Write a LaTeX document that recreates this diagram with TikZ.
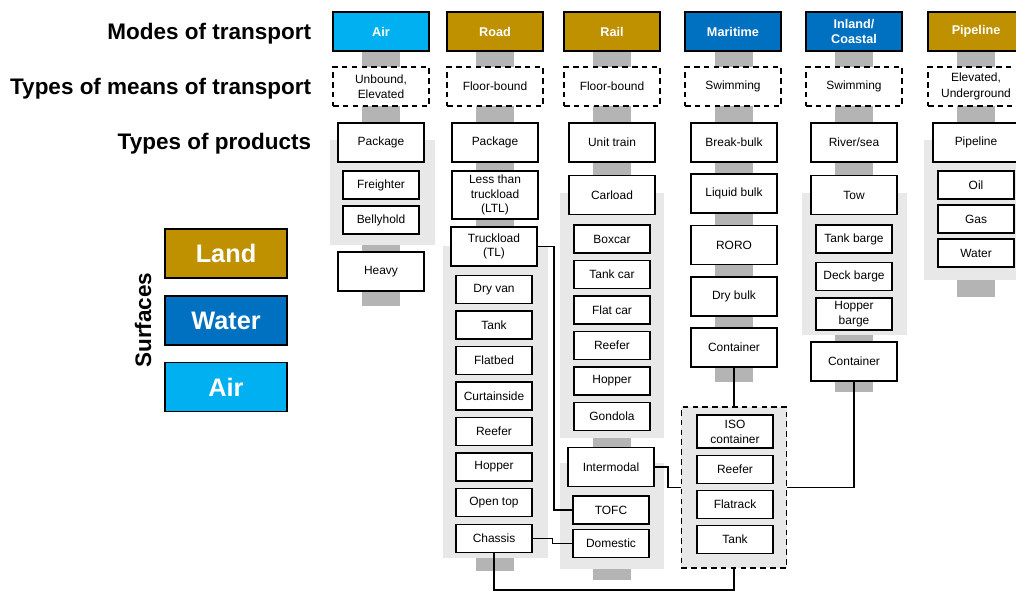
\documentclass[tikz,border=0pt]{standalone}
\usepackage{fontspec}
\setmainfont{Liberation Sans}
\usetikzlibrary{calc}

\definecolor{landc}{RGB}{191,144,0}
\definecolor{waterc}{RGB}{0,112,192}
\definecolor{airc}{RGB}{0,176,240}
\definecolor{barc}{RGB}{180,180,180}
\definecolor{grpc}{RGB}{232,232,232}

\tikzset{
  mode/.style={draw=black, line width=1.3pt, minimum width=2.4cm, minimum height=0.975cm,
    inner sep=0pt, text=white, align=center, font=\fontsize{9}{11}\selectfont\bfseries},
  means/.style={draw=black, dash pattern=on 4pt off 3pt, line width=1.3pt, fill=white,
    minimum width=2.4cm, minimum height=0.975cm, inner sep=0pt, align=center,
    font=\fontsize{8.5}{11}\selectfont},
  prod/.style={draw=black, line width=1.3pt, fill=white, minimum width=2.15cm,
    minimum height=0.975cm, inner sep=0pt, align=center, font=\fontsize{8.5}{10.5}\selectfont},
  sub/.style={prod, minimum width=1.9cm, minimum height=0.7cm},
  isogrp/.style={draw=black, dash pattern=on 4pt off 3pt, line width=1.3pt, fill=grpc,
    minimum width=2.625cm, minimum height=4.025cm, inner sep=0pt},
  bar/.style={fill=barc},
  grp/.style={fill=grpc},
  link/.style={draw=black, line width=1.3pt},
  head/.style={anchor=east, font=\fontsize{16}{18}\selectfont\bfseries},
  legend/.style={draw=black, line width=1.3pt, minimum width=3.05cm, minimum height=1.225cm,
    text=white, font=\fontsize{18}{20}\selectfont\bfseries}
}

\begin{document}
\begin{tikzpicture}[x=0.025cm, y=-0.025cm]
\useasboundingbox (0,0) rectangle (1016,592);

% row labels
\node[head] (lmodes) at (316,34) {Modes of transport};
\node[head] (lmeans) at (316,89) {Types of means of transport};
\node[head] (lprods) at (316,144) {Types of products};

% surfaces legend
\node[legend, fill=landc] (land) at (226,253.5) {Land};
\node[legend, fill=waterc] (water) at (226,320.5) {Water};
\node[legend, fill=airc] (air) at (226,387) {Air};
\node[rotate=90, font=\fontsize{16}{18}\selectfont\bfseries] (surf) at (143,320) {Surfaces};

% air
\begin{scope}[shift={(381,0)}]
  \fill[bar] (-19,51) rectangle (19,306);
  \fill[grp] (-51,140) rectangle (54,245);
  \node[mode, fill=airc] (mAir) at (0,31.5) {Air};
  \node[means] (tAir) at (0,86.5) {Unbound,\\Elevated};
  \node[prod] (airPkg) at (0,142.5) {Package};
  \node[sub] (airFr) at (0,185) {Freighter};
  \node[sub] (airBh) at (0,220) {Bellyhold};
  \node[prod] (airHv) at (0,271.5) {Heavy};
\end{scope}

% road
\begin{scope}[shift={(495,0)}]
  \fill[bar] (-19,51) rectangle (19,571);
  \fill[grp] (-52,246) rectangle (53,558);
  \node[mode, fill=landc] (mRoad) at (0,31.5) {Road};
  \node[means] (tRoad) at (0,86.5) {Floor-bound};
  \node[prod] (roadPkg) at (0,142.5) {Package};
  \node[prod, minimum height=1.2cm] (ltl) at (0,195) {Less than\\truckload\\(LTL)};
  \node[prod] (tl) at (-1,246.5) {Truckload\\(TL)};
  \foreach \t [count=\i] in {Dry van,Tank,Flatbed,Curtainside,Reefer,Hopper,Open top}
    \node[sub] (road\i) at (-1,254+35.5*\i) {\t};
  \node[sub] (chassis) at (-1,538.5) {Chassis};
\end{scope}

% rail
\begin{scope}[shift={(612,0)}]
  \fill[bar] (-19,51) rectangle (19,580);
  \fill[grp] (-52,193) rectangle (52,438);
  \fill[grp] (-52,463) rectangle (52,569);
  \node[mode, fill=landc] (mRail) at (0,31.5) {Rail};
  \node[means] (tRail) at (0,86.5) {Floor-bound};
  \node[prod] (unit) at (0,142.5) {Unit train};
  \node[prod] (carload) at (0,195) {Carload};
  \foreach \t [count=\i] in {Boxcar,Tank car,Flat car,Reefer,Hopper,Gondola}
    \node[sub] (rail\i) at (0,203.5+35.5*\i) {\t};
  \node[prod] (intermodal) at (-1,467) {Intermodal};
  \node[sub] (tofc) at (-1,510) {TOFC};
  \node[sub] (dom) at (-1,543.5) {Domestic};
\end{scope}

% maritime
\begin{scope}[shift={(734,0)}]
  \fill[bar] (-19,51) rectangle (19,382);
  \node[mode, fill=waterc] (mMar) at (-1,31.5) {Maritime};
  \node[means] (tMar) at (-1,86.5) {Swimming};
  \foreach \t [count=\i] in {Break-bulk,Liquid bulk,RORO,Dry bulk}
    \node[prod] (mar\i) at (0,91.25+51.25*\i) {\t};
  \node[prod] (mCont) at (0,347.5) {Container};
  \node[isogrp] (iso) at (0,487.5) {};
  \node[sub, minimum height=0.825cm] (isoc) at (1,431.5) {ISO\\container};
  \node[sub] (isoRf) at (1,469.5) {Reefer};
  \node[sub] (isoFl) at (1,504.5) {Flatrack};
  \node[sub] (isoTk) at (1,539.5) {Tank};
\end{scope}

% inland / coastal
\begin{scope}[shift={(854,0)}]
  \fill[bar] (-19,51) rectangle (19,392);
  \fill[grp] (-52,193) rectangle (53,335);
  \node[mode, fill=waterc] (mInl) at (0,31.5) {Inland/\\Coastal};
  \node[means] (tInl) at (0,86.5) {Swimming};
  \node[prod] (river) at (0,142.5) {River/sea};
  \node[prod] (tow) at (0,195) {Tow};
  \node[sub] (tankb) at (0,239) {Tank barge};
  \node[sub] (deckb) at (0,276.5) {Deck barge};
  \node[sub, minimum height=0.8cm] (hopb) at (0,314) {Hopper\\barge};
  \node[prod] (iCont) at (0,361.5) {Container};
\end{scope}

% pipeline
\begin{scope}[shift={(976,0)}]
  \fill[bar] (-19,51) rectangle (19,297);
  \fill[grp] (-52,140) rectangle (52,280);
  \node[mode, fill=landc] (mPipe) at (0,31.5) {Pipeline};
  \node[means] (tPipe) at (0,86.5) {Elevated,\\Underground};
  \node[prod] (pipe) at (0,142.5) {Pipeline};
  \node[sub] (oil) at (0,185) {Oil};
  \node[sub] (gas) at (0,219) {Gas};
  \node[sub] (water) at (0,253) {Water};
\end{scope}

% links
\coordinate (bottom) at (600,590);
\draw[link] (tl.east) -| ($(tofc.west)+(-18,0)$) -- (tofc.west);
\draw[link] (chassis.east) -| ($(chassis.east)!0.5!(dom.west)$) |- (dom.west);
\draw[link] (chassis.south) |- (bottom) -| (iso.south);
\draw[link] (intermodal.east) -| ($(intermodal.east)!0.5!(iso.west)$) |- (iso.west);
\draw[link] (mCont.south) -- (iso.north);
\draw[link] (iCont.south) |- (iso.east);
\end{tikzpicture}
\end{document}
